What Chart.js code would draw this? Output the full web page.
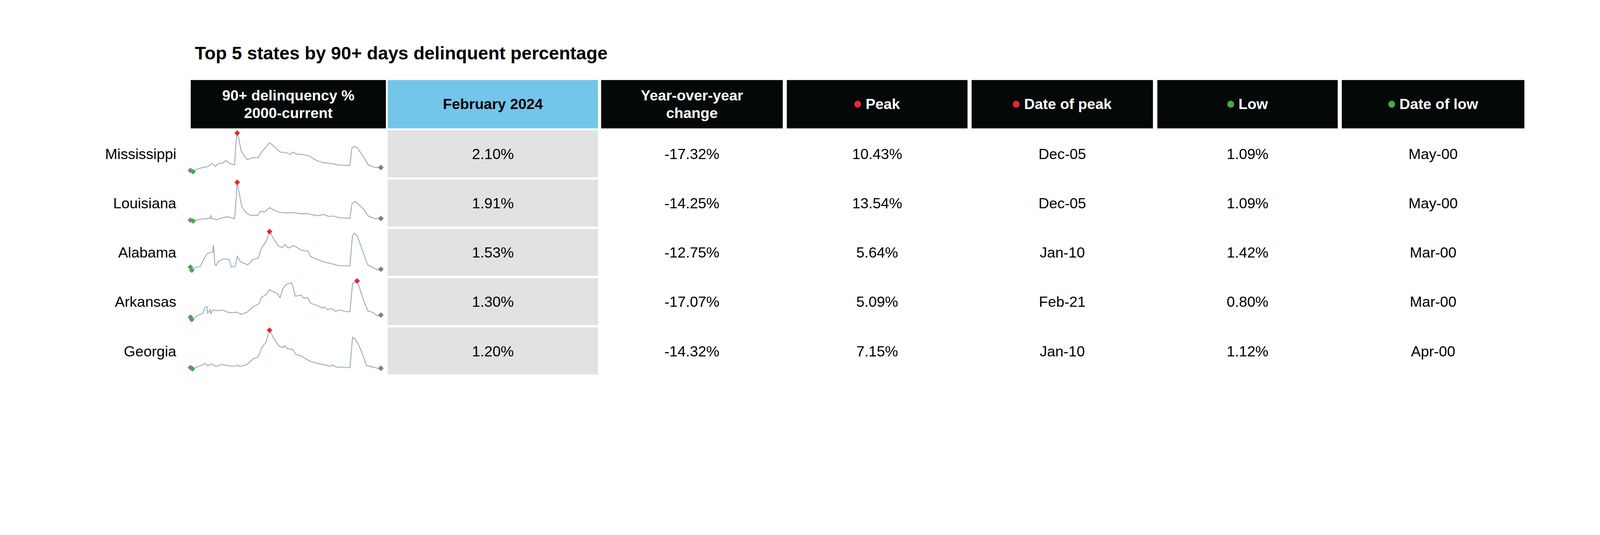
<!DOCTYPE html>
<html><head><meta charset="utf-8">
<script src="https://cdn.jsdelivr.net/npm/chart.js@4/dist/chart.umd.min.js"></script>
<style>
html,body{margin:0;padding:0;background:#fff;overflow:hidden;}
#wrap{width:5100px;height:1369px;position:absolute;left:0;top:0;transform-origin:0 0;font-family:"Liberation Sans",Arial,sans-serif;background:#fff;}
.abs{position:absolute;box-sizing:border-box;display:flex;align-items:center;justify-content:center;text-align:center;}
.hdr{background:#050808;color:#fff;font-weight:bold;font-size:47px;line-height:56px;}
.cell{color:#000;font-size:47px;}
.lbl{justify-content:flex-end;font-size:47px;color:#000;}
.dot{display:inline-block;width:22px;height:22px;border-radius:50%;margin-right:14px;}
#title{position:absolute;left:621px;top:135px;font-weight:bold;font-size:58px;color:#000;}
canvas{position:absolute;}
</style></head><body>
<div id="wrap"><div id="title">Top 5 states by 90+ days delinquent percentage</div></div>
<script>
const states = ["Mississippi","Louisiana","Alabama","Arkansas","Georgia"];
const headers = ["90+ delinquency %<br>2000-current","February 2024","Year-over-year<br>change","Peak","Date of peak","Low","Date of low"];
const current = ["2.10%","1.91%","1.53%","1.30%","1.20%"];
const yoy = ["-17.32%","-14.25%","-12.75%","-17.07%","-14.32%"];
const peak = ["10.43%","13.54%","5.64%","5.09%","7.15%"];
const peakDate = ["Dec-05","Dec-05","Jan-10","Feb-21","Jan-10"];
const low = ["1.09%","1.09%","1.42%","0.80%","1.12%"];
const lowDate = ["May-00","May-00","Mar-00","Mar-00","Apr-00"];

// months since Jan-2000
const msMonths = [0,4,8,19,25,33,38,42,49,54,60,67,69,71,73,77,86,95,103,108,115,120,126,133,138,145,151,156,161,168,180,191,202,215,225,242,245,248,253,263,270,280,289];
const msValues = [1.39,1.09,1.57,2.13,2.24,3.06,2.32,3.06,3.14,3.81,3.06,2.76,7.9,10.43,9.4,6.04,3.99,4.48,4.48,5.85,7.15,8.09,7.34,6.23,5.74,5.74,5.3,5.85,5.3,5.3,4.92,3.81,3.25,3.06,2.69,2.62,6.78,7.15,6.97,4.55,2.69,2.13,2.10];
const laMonths = [0,4,19,30,31,32,40,51,57,67,69,71,74,78,85,91,102,107,112,120,126,134,144,155,168,178,193,202,210,217,225,242,245,250,256,262,270,280,289];
const laValues = [1.34,1.09,1.78,1.93,2.77,1.93,1.53,2.28,2.42,1.78,7.12,13.54,10.08,5.63,3.66,2.92,2.92,4.25,3.91,5.39,4.75,3.91,3.66,3.76,3.41,3.41,2.77,3.16,2.57,2.67,2.18,1.93,6.62,7.36,6.23,5.14,2.67,1.83,1.91];
const alMonths = [0,2,8,15,21,26,34,35,37,39,42,50,59,62,68,71,76,87,95,103,108,115,120,127,134,140,144,148,157,169,179,182,193,202,212,225,242,246,249,253,261,269,276,284,289];
const alValues = [1.76,1.42,1.76,1.84,2.76,3.26,3.43,4.18,2.09,1.92,2.34,2.68,2.59,1.76,1.84,2.93,2.34,2.01,2.59,2.76,3.85,4.6,5.64,4.77,4.02,3.93,4.23,3.85,4.1,3.6,3.51,2.93,2.59,2.34,2.17,1.92,1.89,5.27,5.47,5.19,3.6,2.01,1.76,1.45,1.53];
const arMonths = [0,2,12,19,22,25,26,30,31,34,42,49,59,71,77,86,95,104,108,115,120,125,131,136,140,145,153,155,159,168,172,178,182,193,200,203,208,215,220,226,234,242,246,253,259,263,269,276,284,289];
const arValues = [1.06,0.80,1.28,1.50,2.11,2.23,1.50,1.89,1.45,1.84,1.78,1.84,1.56,1.61,1.36,1.61,2.23,2.56,3.28,3.56,4.12,3.92,3.73,3.23,4.18,4.68,4.90,4.62,3.40,3.51,3.17,3.23,2.62,2.34,2.06,2.20,1.89,2.00,1.72,1.87,1.72,1.65,4.79,5.09,3.79,2.89,1.78,1.61,1.20,1.30];
const gaMonths = [0,3,12,23,26,32,39,47,55,65,72,75,86,95,103,108,115,120,126,134,140,143,147,155,160,168,174,182,193,204,212,215,221,231,242,246,250,256,261,267,276,285,289];
const gaValues = [1.32,1.12,1.48,1.95,1.56,1.88,1.48,1.80,1.64,1.53,1.69,1.48,1.80,2.66,2.98,4.39,5.34,7.15,5.97,4.71,4.43,4.71,4.24,4.16,3.37,3.13,2.74,2.27,1.95,1.72,1.48,1.72,1.40,1.37,1.28,6.05,5.73,4.71,3.45,1.64,1.40,1.17,1.20];
const seriesMonths = [msMonths,laMonths,alMonths,arMonths,gaMonths];
const seriesValues = [msValues,laValues,alValues,arValues,gaValues];

const colX = [608,1236,1916,2508,3097,3689,4277];
const colW = [622,670,579,576,578,575,582];
const hdrTop = 255, hdrH = 154;
const rowTops = [415,572,729,886,1043], rowH = 150;

const wrap=document.getElementById('wrap');
wrap.style.transform='scale('+(window.innerWidth/5100)+')';
function div(cls, x, y, w, h, html, bg){
  const d=document.createElement('div'); d.className='abs '+cls;
  d.style.left=x+'px'; d.style.top=y+'px'; d.style.width=w+'px'; d.style.height=h+'px';
  if(bg) d.style.background=bg; d.innerHTML=html; wrap.appendChild(d); return d;
}
headers.forEach((h,i)=>{
  let html=h;
  if(i===3||i===4) html='<span class="dot" style="background:#E8262B"></span>'+h;
  if(i===5||i===6) html='<span class="dot" style="background:#3FAE49"></span>'+h;
  const d=div('hdr',colX[i],hdrTop,colW[i],hdrH,html, i===1?'#73C5E9':null);
  if(i===1) d.style.color='#000';
});
const cols=[current,yoy,peak,peakDate,low,lowDate];
states.forEach((s,r)=>{
  const y=rowTops[r];
  div('lbl',0,y,562,rowH,s);
  cols.forEach((c,j)=>div('cell',colX[j+1],y,colW[j+1],rowH,c[r], j===0?'#E2E2E2':null));
  const cv=document.createElement('canvas');
  cv.style.left='596px'; cv.style.top=y+'px'; cv.style.width='630px'; cv.style.height=rowH+'px';
  cv.width=630; cv.height=rowH; wrap.appendChild(cv);
  const m=seriesMonths[r], v=seriesValues[r];
  const pts=m.map((mm,k)=>({x:mm,y:v[k]}));
  const maxI=v.indexOf(Math.max(...v)), minI=v.indexOf(Math.min(...v)), last=v.length-1;
  const colors=v.map((_,k)=>k===maxI?'#E8262B':(k===minI?'#3FAE49':((k===0||k===last)?'#808080':'rgba(0,0,0,0)')));
  const radii=v.map((_,k)=>(k===maxI||k===minI||k===0||k===last)?9:0);
  new Chart(cv,{type:'line',data:{datasets:[{data:pts,borderColor:'#8AA3B3',borderWidth:2.5,tension:0,
    pointStyle:'rectRot',pointRadius:radii,pointBackgroundColor:colors,pointBorderColor:colors,pointBorderWidth:0,clip:false}]},
    options:{responsive:false,animation:false,devicePixelRatio:1,layout:{padding:{left:11,right:12,top:5,bottom:18}},
      plugins:{legend:{display:false},tooltip:{enabled:false}},
      scales:{x:{type:'linear',min:0,max:289,display:false},y:{min:Math.min(...v),max:Math.max(...v),display:false}}}});
});
</script>
</body></html>
